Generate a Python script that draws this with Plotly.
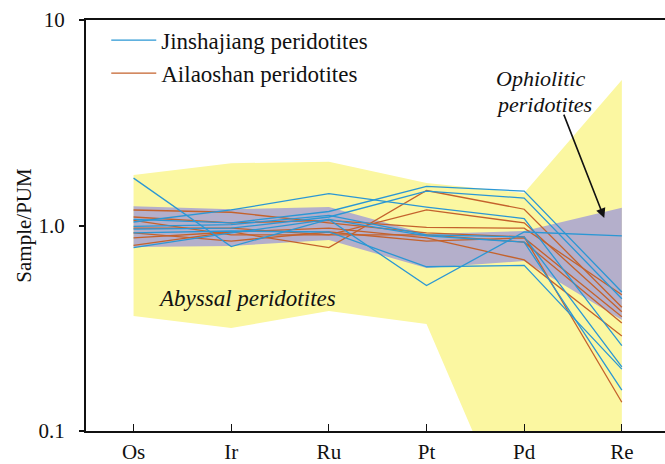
import plotly.graph_objects as go

# Element order along the x axis
elements = ["Os", "Ir", "Ru", "Pt", "Pd", "Re"]

# Abyssal peridotite field (upper / lower bounds, PUM-normalised)
abyssal_upper = [1.76, 2.01, 2.04, 1.61, 1.44, 5.1]
abyssal_lower = [0.363, 0.317, 0.384, 0.332, 0.026, 0.02]

# Ophiolitic peridotite field
ophio_upper = [1.24, 1.20, 1.23, 0.91, 0.94, 1.22]
ophio_lower = [0.786, 0.795, 0.85, 0.621, 0.672, 0.347]

# Jinshajiang peridotites
jinsha_1 = [1.70, 0.79, 1.07, 0.51, 0.93, 0.89]
jinsha_2 = [1.04, 1.19, 1.43, 1.23, 1.08, 0.26]
jinsha_3 = [1.07, 1.03, 1.17, 1.55, 1.47, 0.475]
jinsha_4 = [0.96, 0.97, 1.10, 1.47, 1.36, 0.44]
jinsha_5 = [0.99, 1.01, 1.12, 0.90, 0.88, 0.205]
jinsha_6 = [0.78, 0.92, 1.07, 0.89, 0.83, 0.158]
jinsha_7 = [0.92, 0.94, 0.93, 0.63, 0.64, 0.20]

# Ailaoshan peridotites
ailao_1 = [0.87, 0.93, 0.78, 1.48, 1.20, 0.40]
ailao_2 = [0.97, 0.97, 0.90, 1.19, 1.03, 0.38]
ailao_3 = [1.19, 1.16, 1.03, 0.92, 0.88, 0.138]
ailao_4 = [1.10, 1.03, 1.06, 0.98, 0.97, 0.46]
ailao_5 = [1.06, 0.90, 0.90, 0.90, 0.83, 0.335]
ailao_6 = [0.80, 0.93, 0.97, 0.87, 0.68, 0.29]
ailao_7 = [0.92, 0.84, 0.93, 0.84, 0.87, 0.36]

jinsha_series = [jinsha_1, jinsha_2, jinsha_3, jinsha_4, jinsha_5, jinsha_6, jinsha_7]
ailao_series = [ailao_1, ailao_2, ailao_3, ailao_4, ailao_5, ailao_6, ailao_7]

BLUE = "#2b97d4"
ORANGE = "#c4622c"
YELLOW = "#fbf7a1"
PURPLE = "#b4afcb"
SERIF = "Liberation Serif"

idx = list(range(len(elements)))
poly_x = idx + idx[::-1]

fig = go.Figure()

# Shaded reference fields
fig.add_trace(go.Scatter(
    x=poly_x, y=abyssal_upper + abyssal_lower[::-1],
    fill="toself", fillcolor=YELLOW, mode="none",
    hoverinfo="skip", showlegend=False))
fig.add_trace(go.Scatter(
    x=poly_x, y=ophio_upper + ophio_lower[::-1],
    fill="toself", fillcolor=PURPLE, mode="none",
    hoverinfo="skip", showlegend=False))

# Sample patterns
for i, ys in enumerate(ailao_series):
    fig.add_trace(go.Scatter(
        x=idx, y=ys, mode="lines",
        line=dict(color=ORANGE, width=1.3),
        name="Ailaoshan peridotites", legendgroup="ailao",
        legendrank=2, showlegend=(i == 0)))
for i, ys in enumerate(jinsha_series):
    fig.add_trace(go.Scatter(
        x=idx, y=ys, mode="lines",
        line=dict(color=BLUE, width=1.3),
        name="Jinshajiang peridotites", legendgroup="jinsha",
        legendrank=1, showlegend=(i == 0)))

label_font = dict(family=SERIF, size=22, color="#111")
fig.add_annotation(
    x=1.16, y=-0.353, xref="x", yref="y",
    text="<i>Abyssal peridotites</i>", showarrow=False,
    font=dict(family=SERIF, size=23, color="#111"))
fig.add_annotation(
    x=4.163, y=0.713, xref="x", yref="y",
    text="<i>Ophiolitic</i>", showarrow=False, font=label_font)
fig.add_annotation(
    x=4.20, y=0.591, xref="x", yref="y",
    text="<i>peridotites</i>", showarrow=False, font=label_font)
fig.add_annotation(
    x=4.82, y=0.0365, xref="x", yref="y",
    ax=4.40, ay=0.547, axref="x", ayref="y",
    text="", showarrow=True, arrowhead=2, arrowsize=1.2,
    arrowwidth=1.6, arrowcolor="#111")

fig.update_layout(
    width=665, height=464,
    margin=dict(l=86, r=0, t=20, b=33),
    plot_bgcolor="white", paper_bgcolor="white",
    font=dict(family=SERIF, size=21, color="#111"),
    legend=dict(
        x=0.035, y=1.003, xanchor="left", yanchor="top",
        bgcolor="rgba(0,0,0,0)", font=dict(family=SERIF, size=23),
        traceorder="normal", tracegroupgap=3, itemwidth=45),
    xaxis=dict(
        range=[-0.487, 5.442], tickvals=idx, ticktext=elements,
        showgrid=False, zeroline=False, automargin=False,
        showline=True, linecolor="#111", linewidth=2, mirror=True,
        ticks="inside", ticklen=7, tickwidth=1, tickcolor="#111",
        ticklabelstandoff=1,
        tickfont=dict(family=SERIF, size=21)),
    yaxis=dict(
        type="log", range=[-1, 1], automargin=False,
        tickvals=[0.1, 1, 10], ticktext=["0.1", "1.0", "10"],
        showgrid=False, zeroline=False,
        showline=True, linecolor="#111", linewidth=2, mirror=False,
        ticks="outside", ticklen=5, tickwidth=1.5, tickcolor="#111",
        ticklabelstandoff=10,
        tickfont=dict(family=SERIF, size=21),
        title=dict(text="Sample/PUM", font=dict(family=SERIF, size=21), standoff=1)),
)

fig.write_html("out.html")
